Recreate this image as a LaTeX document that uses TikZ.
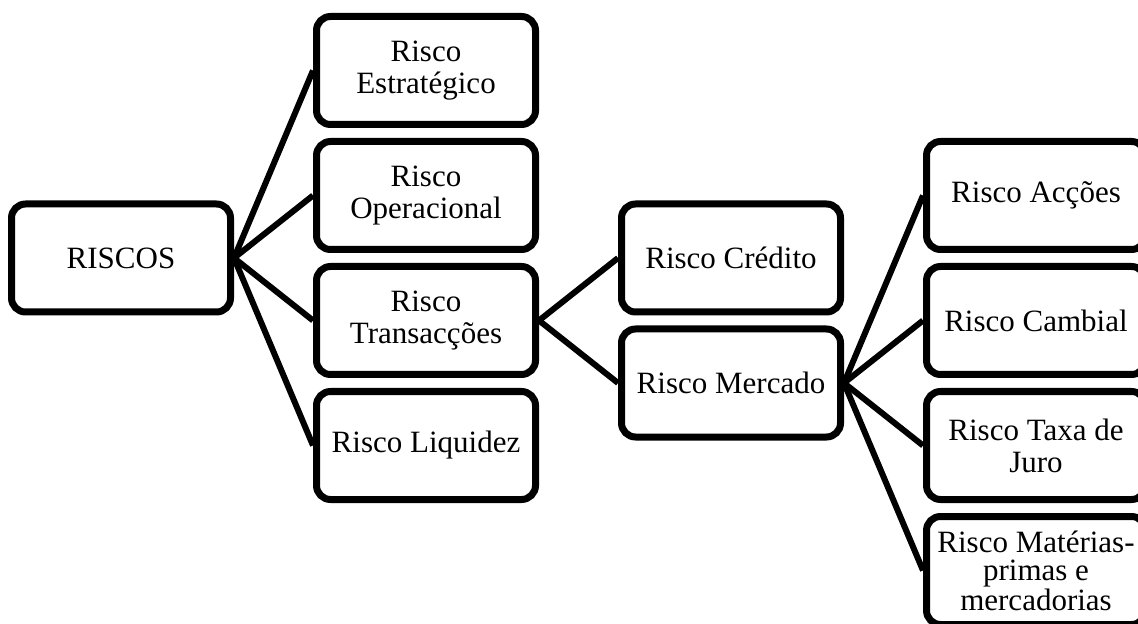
\documentclass[tikz,border=0pt]{standalone}
\usepackage{fontspec}
\setmainfont{Liberation Serif}
\usetikzlibrary{positioning}

\begin{document}
\begin{tikzpicture}[node distance=5pt and 39.5pt,
box/.style={draw,line width=3.5pt,rounded corners=7pt,fill=white,align=center,minimum width=109.5pt,minimum height=54pt,font=\fontsize{15.5}{16}\selectfont},
link/.style={line width=3pt}]
\clip (0,0) rectangle (569pt,-312pt);
\node[box](riscos) at (60.5pt,-129pt){RISCOS};
\node[box,right=of riscos,yshift=31.25pt](operacional){Risco\\Operacional};
\node[box,above=of operacional](estrategico){Risco\\Estratégico};
\node[box,below=of operacional](transaccoes){Risco\\Transacções};
\node[box,below=of transaccoes](liquidez){Risco Liquidez};
\node[box,right=of transaccoes,yshift=31.25pt](credito){Risco Crédito};
\node[box,below=of credito](mercado){Risco Mercado};
\node[box,right=of mercado,yshift=31.25pt](cambial){Risco Cambial};
\node[box,above=of cambial](accoes){Risco Acções};
\node[box,below=of cambial](taxa){Risco Taxa de\\Juro};
\node[box,below=of taxa,font=\fontsize{15.5}{14}\selectfont](materias){Risco Matérias-\\primas e\\mercadorias};
% ligacoes
\foreach \n in {estrategico,operacional,transaccoes,liquidez}{\draw[link](riscos.east)--(\n.west);}
\draw[link](transaccoes.east)--(credito.west);\draw[link](transaccoes.east)--(mercado.west);
\foreach \n in {accoes,cambial,taxa,materias}{\draw[link](mercado.east)--(\n.west);}
\end{tikzpicture}
\end{document}
